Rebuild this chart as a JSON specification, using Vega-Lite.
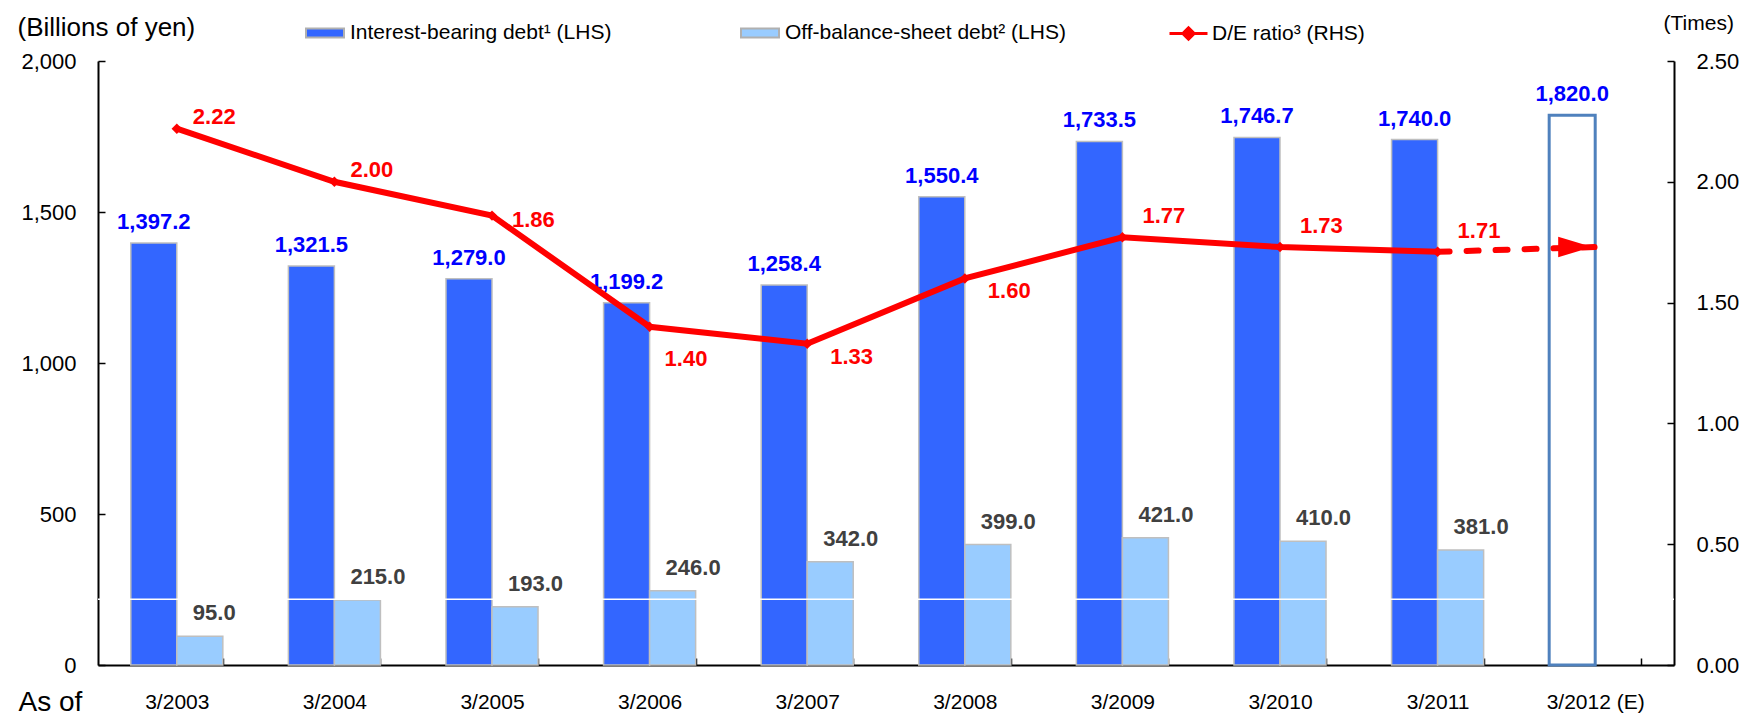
{
  "$schema": "https://vega.github.io/schema/vega-lite/v6.json",
  "width": 1576,
  "height": 604,
  "autosize": {"type": "none"},
  "padding": {"left": 98, "top": 61, "right": 68, "bottom": 51},
  "background": "white",
  "config": {
    "view": {"stroke": null},
    "font": "Liberation Sans, Arial, sans-serif",
    "axis": {"grid": false, "domainColor": "black", "tickColor": "black", "labelColor": "black", "titleColor": "black", "labelFont": "Liberation Sans, Arial, sans-serif", "titleFont": "Liberation Sans, Arial, sans-serif"},
    "legend": {"labelFont": "Liberation Sans, Arial, sans-serif", "labelColor": "black"}
  },
  "datasets": {
    "bars": [
      {"period": "3/2003", "series": "Interest-bearing debt¹ (LHS)", "value": 1397.2},
      {"period": "3/2003", "series": "Off-balance-sheet debt² (LHS)", "value": 95.0},
      {"period": "3/2004", "series": "Interest-bearing debt¹ (LHS)", "value": 1321.5},
      {"period": "3/2004", "series": "Off-balance-sheet debt² (LHS)", "value": 215.0},
      {"period": "3/2005", "series": "Interest-bearing debt¹ (LHS)", "value": 1279.0},
      {"period": "3/2005", "series": "Off-balance-sheet debt² (LHS)", "value": 193.0},
      {"period": "3/2006", "series": "Interest-bearing debt¹ (LHS)", "value": 1199.2},
      {"period": "3/2006", "series": "Off-balance-sheet debt² (LHS)", "value": 246.0},
      {"period": "3/2007", "series": "Interest-bearing debt¹ (LHS)", "value": 1258.4},
      {"period": "3/2007", "series": "Off-balance-sheet debt² (LHS)", "value": 342.0},
      {"period": "3/2008", "series": "Interest-bearing debt¹ (LHS)", "value": 1550.4},
      {"period": "3/2008", "series": "Off-balance-sheet debt² (LHS)", "value": 399.0},
      {"period": "3/2009", "series": "Interest-bearing debt¹ (LHS)", "value": 1733.5},
      {"period": "3/2009", "series": "Off-balance-sheet debt² (LHS)", "value": 421.0},
      {"period": "3/2010", "series": "Interest-bearing debt¹ (LHS)", "value": 1746.7},
      {"period": "3/2010", "series": "Off-balance-sheet debt² (LHS)", "value": 410.0},
      {"period": "3/2011", "series": "Interest-bearing debt¹ (LHS)", "value": 1740.0},
      {"period": "3/2011", "series": "Off-balance-sheet debt² (LHS)", "value": 381.0}
    ],
    "estimate": [
      {"period": "3/2012 (E)", "series": "Interest-bearing debt¹ (LHS)", "value": 1820.0}
    ],
    "de": [
      {"period": "3/2003", "de": 2.22},
      {"period": "3/2004", "de": 2.00},
      {"period": "3/2005", "de": 1.86},
      {"period": "3/2006", "de": 1.40},
      {"period": "3/2007", "de": 1.33},
      {"period": "3/2008", "de": 1.60},
      {"period": "3/2009", "de": 1.77},
      {"period": "3/2010", "de": 1.73},
      {"period": "3/2011", "de": 1.71}
    ],
    "de_est": [
      {"period": "3/2011", "de": 1.71},
      {"period": "3/2012 (E)", "de": 1.73}
    ],
    "artifact": [
      {"level": 218}
    ]
  },
  "layer": [
    {
      "layer": [
        {
          "data": {"name": "bars"},
          "mark": {"type": "bar", "stroke": "#BFBFBF", "strokeWidth": 1.5},
          "encoding": {
            "x": {
              "field": "period", "type": "nominal",
              "scale": {"domain": ["3/2003", "3/2004", "3/2005", "3/2006", "3/2007", "3/2008", "3/2009", "3/2010", "3/2011", "3/2012 (E)"], "paddingInner": 0.416, "paddingOuter": 0.208},
              "axis": {
                "title": "As of", "titleFontSize": 28, "titleFontWeight": "normal", "titleX": -80, "titleY": 45, "titleAlign": "left", "titleBaseline": "alphabetic",
                "labelFontSize": 21, "labelPadding": 33, "labelAngle": 0, "tickSize": -7, "tickBand": "extent", "domainWidth": 2, "tickWidth": 1.5
              }
            },
            "xOffset": {"field": "series", "type": "nominal", "scale": {"domain": ["Interest-bearing debt¹ (LHS)", "Off-balance-sheet debt² (LHS)"]}},
            "y": {
              "field": "value", "type": "quantitative",
              "scale": {"domain": [0, 2000], "nice": false},
              "axis": {
                "title": "(Billions of yen)", "titleAngle": 0, "titleX": -81, "titleY": -26, "titleAlign": "left", "titleBaseline": "alphabetic", "titleFontSize": 26, "titleFontWeight": "normal",
                "values": [0, 500, 1000, 1500, 2000], "format": ",d", "labelFontSize": 22, "labelPadding": 29, "tickSize": -7, "domainWidth": 2, "tickWidth": 1.5
              }
            },
            "fill": {
              "field": "series", "type": "nominal",
              "scale": {"domain": ["Interest-bearing debt¹ (LHS)", "Off-balance-sheet debt² (LHS)"], "range": ["#3366FF", "#99CCFF"]},
              "legend": {
                "title": null, "orient": "none", "legendX": 207, "legendY": -48, "direction": "horizontal",
                "symbolType": "M-1,-0.24H1V0.24H-1Z", "symbolSize": 1444, "symbolStrokeColor": "#B0B0B0", "symbolStrokeWidth": 2,
                "labelFontSize": 21, "labelOffset": 5, "columnPadding": 125, "labelLimit": 400,
                "encode": {"symbols": {"update": {"fill": {"signal": "datum.value === 'Off-balance-sheet debt² (LHS)' ? '#B7DEE8' : '#3366FF'"}, "stroke": {"value": "#B0B0B0"}}}}
              }
            }
          }
        },
        {
          "data": {"name": "artifact"},
          "mark": {"type": "rule", "color": "white", "strokeWidth": 1.5},
          "encoding": {"y": {"field": "level", "type": "quantitative"}}
        },
        {
          "data": {"name": "estimate"},
          "mark": {"type": "bar", "fill": "white", "stroke": "#4F81BD", "strokeWidth": 3},
          "encoding": {
            "x": {"field": "period", "type": "nominal"},
            "xOffset": {"field": "series", "type": "nominal"},
            "y": {"field": "value", "type": "quantitative"}
          }
        },
        {
          "data": {"name": "bars"},
          "transform": [{"filter": "datum.series === 'Interest-bearing debt¹ (LHS)'"}],
          "mark": {"type": "text", "align": "center", "baseline": "middle", "dx": -23, "dy": -21, "fontSize": 22, "fontWeight": "bold", "color": "#0000FF"},
          "encoding": {
            "x": {"field": "period", "type": "nominal"},
            "y": {"field": "value", "type": "quantitative"},
            "text": {"field": "value", "type": "quantitative", "format": ",.1f"}
          }
        },
        {
          "data": {"name": "bars"},
          "transform": [{"filter": "datum.series === 'Off-balance-sheet debt² (LHS)'"}],
          "mark": {"type": "text", "align": "left", "baseline": "middle", "dx": 16, "dy": -23, "fontSize": 22, "fontWeight": "bold", "color": "#404040"},
          "encoding": {
            "x": {"field": "period", "type": "nominal"},
            "y": {"field": "value", "type": "quantitative"},
            "text": {"field": "value", "type": "quantitative", "format": ",.1f"}
          }
        },
        {
          "data": {"name": "estimate"},
          "mark": {"type": "text", "align": "center", "baseline": "middle", "dx": -23, "dy": -21, "fontSize": 22, "fontWeight": "bold", "color": "#0000FF"},
          "encoding": {
            "x": {"field": "period", "type": "nominal"},
            "y": {"field": "value", "type": "quantitative"},
            "text": {"field": "value", "type": "quantitative", "format": ",.1f"}
          }
        }
      ]
    },
    {
      "layer": [
        {
          "data": {"name": "de"},
          "mark": {"type": "line", "strokeWidth": 6},
          "encoding": {
            "x": {"field": "period", "type": "nominal"},
            "y": {
              "field": "de", "type": "quantitative",
              "scale": {"domain": [0, 2.5], "nice": false},
              "axis": {
                "orient": "right", "title": "(Times)", "titleAngle": 0, "titleX": -11, "titleY": -32, "titleAlign": "left", "titleBaseline": "alphabetic", "titleFontSize": 21, "titleFontWeight": "normal",
                "values": [0, 0.5, 1, 1.5, 2, 2.5], "format": ".2f", "labelFontSize": 22, "labelPadding": 29, "tickSize": -7, "domainWidth": 2, "tickWidth": 1.5
              }
            },
            "stroke": {
              "datum": "D/E ratio³ (RHS)", "type": "nominal",
              "scale": {"range": ["#FF0000"]},
              "legend": {
                "title": null, "orient": "none", "legendX": 1070, "legendY": -48,
                "symbolType": "M-1,0H1M-0.3,0L0,-0.3L0.3,0L0,0.3Z", "symbolSize": 1444, "symbolStrokeWidth": 3, "symbolFillColor": "#FF0000",
                "labelFontSize": 21, "labelOffset": 3, "labelLimit": 400,
                "encode": {"symbols": {"update": {"fill": {"value": "#FF0000"}, "stroke": {"value": "#FF0000"}}}}
              }
            }
          }
        },
        {
          "data": {"name": "de"},
          "mark": {"type": "point", "shape": "diamond", "filled": true, "color": "#FF0000", "size": 110, "opacity": 1},
          "encoding": {
            "x": {"field": "period", "type": "nominal"},
            "y": {"field": "de", "type": "quantitative"}
          }
        },
        {
          "data": {"name": "de_est"},
          "mark": {"type": "line", "color": "#FF0000", "strokeWidth": 6, "strokeDash": [12, 17], "strokeCap": "round"},
          "encoding": {
            "x": {"field": "period", "type": "nominal"},
            "y": {"field": "de", "type": "quantitative"}
          }
        },
        {
          "data": {"name": "de_est"},
          "transform": [{"filter": "datum.period === '3/2012 (E)'"}],
          "mark": {"type": "point", "shape": "M0,0L-2,-0.6L-2,0.6Z", "filled": true, "color": "#FF0000", "size": 1156, "opacity": 1, "xOffset": -3},
          "encoding": {
            "x": {"field": "period", "type": "nominal"},
            "y": {"field": "de", "type": "quantitative"}
          }
        },
        {
          "data": {"name": "de"},
          "transform": [{"filter": {"field": "period", "oneOf": ["3/2003", "3/2004"]}}],
          "mark": {"type": "text", "align": "left", "baseline": "middle", "dx": 16, "dy": -12, "fontSize": 22, "fontWeight": "bold", "color": "#FF0000"},
          "encoding": {
            "x": {"field": "period", "type": "nominal"},
            "y": {"field": "de", "type": "quantitative"},
            "text": {"field": "de", "type": "quantitative", "format": ".2f"}
          }
        },
        {
          "data": {"name": "de"},
          "transform": [{"filter": {"field": "period", "oneOf": ["3/2009", "3/2010", "3/2011"]}}],
          "mark": {"type": "text", "align": "left", "baseline": "middle", "dx": 20, "dy": -21, "fontSize": 22, "fontWeight": "bold", "color": "#FF0000"},
          "encoding": {
            "x": {"field": "period", "type": "nominal"},
            "y": {"field": "de", "type": "quantitative"},
            "text": {"field": "de", "type": "quantitative", "format": ".2f"}
          }
        },
        {
          "data": {"name": "de"},
          "transform": [{"filter": {"field": "period", "oneOf": ["3/2005"]}}],
          "mark": {"type": "text", "align": "left", "baseline": "middle", "dx": 20, "dy": 4, "fontSize": 22, "fontWeight": "bold", "color": "#FF0000"},
          "encoding": {
            "x": {"field": "period", "type": "nominal"},
            "y": {"field": "de", "type": "quantitative"},
            "text": {"field": "de", "type": "quantitative", "format": ".2f"}
          }
        },
        {
          "data": {"name": "de"},
          "transform": [{"filter": {"field": "period", "oneOf": ["3/2007", "3/2008"]}}],
          "mark": {"type": "text", "align": "left", "baseline": "middle", "dx": 23, "dy": 13, "fontSize": 22, "fontWeight": "bold", "color": "#FF0000"},
          "encoding": {
            "x": {"field": "period", "type": "nominal"},
            "y": {"field": "de", "type": "quantitative"},
            "text": {"field": "de", "type": "quantitative", "format": ".2f"}
          }
        },
        {
          "data": {"name": "de"},
          "transform": [{"filter": {"field": "period", "oneOf": ["3/2006"]}}],
          "mark": {"type": "text", "align": "left", "baseline": "middle", "dx": 15, "dy": 32, "fontSize": 22, "fontWeight": "bold", "color": "#FF0000"},
          "encoding": {
            "x": {"field": "period", "type": "nominal"},
            "y": {"field": "de", "type": "quantitative"},
            "text": {"field": "de", "type": "quantitative", "format": ".2f"}
          }
        }
      ]
    }
  ],
  "resolve": {"scale": {"y": "independent"}}
}
